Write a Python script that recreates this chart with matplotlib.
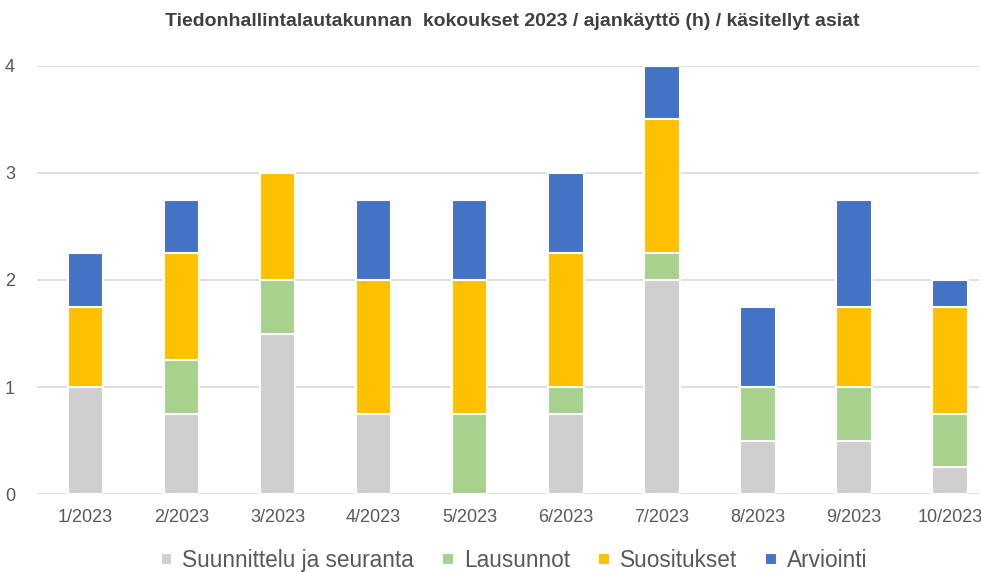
import numpy as np
import matplotlib.pyplot as plt

# data
months = ['1/2023', '2/2023', '3/2023', '4/2023', '5/2023',
          '6/2023', '7/2023', '8/2023', '9/2023', '10/2023']
suunnittelu = [1.0, 0.75, 1.5, 0.75, 0.0, 0.75, 2.0, 0.5, 0.5, 0.25]
lausunnot = [0.0, 0.5, 0.5, 0.0, 0.75, 0.25, 0.25, 0.5, 0.5, 0.5]
suositukset = [0.75, 1.0, 1.0, 1.25, 1.25, 1.25, 1.25, 0.0, 0.75, 1.0]
arviointi = [0.5, 0.5, 0.0, 0.75, 0.75, 0.75, 0.5, 0.75, 1.0, 0.25]

series = [('Suunnittelu ja seuranta', suunnittelu, '#D0CECE'),
          ('Lausunnot', lausunnot, '#A9D18E'),
          ('Suositukset', suositukset, '#FFC000'),
          ('Arviointi', arviointi, '#4472C4')]

plt.rcParams['font.family'] = ['Liberation Sans', 'DejaVu Sans']

fig = plt.figure(figsize=(9.81, 5.72), dpi=100)
ax = fig.add_axes([0.038, 0.136, 0.96, 0.749])

x = np.arange(len(months))
bottom = np.zeros(len(months))
for name, vals, col in series:
    vals = np.array(vals)
    ax.bar(x, vals, 0.37, bottom=bottom, color=col, edgecolor='white',
           linewidth=1.5, label=name, zorder=3)
    bottom += vals

ax.set_xlim(-0.5, 9.3)
ax.set_ylim(0, 4)
ax.set_yticks([0, 1, 2, 3, 4])
ax.set_xticks(x)
ax.set_xticklabels(months)
ax.grid(axis='y', color='#D9D9D9', linewidth=1.2, zorder=0)
for s in ['top', 'right', 'left', 'bottom']:
    ax.spines[s].set_visible(False)
ax.tick_params(axis='both', length=0, labelsize=13, colors='#595959')
ax.tick_params(axis='x', pad=11)
ax.tick_params(axis='y', pad=16)

fig.text(0.522, 0.962, 'Tiedonhallintalautakunnan  kokoukset 2023 / ajankäyttö (h) / käsitellyt asiat',
         ha='center', va='center', fontsize=14, fontweight='bold', color='#404040')

leg = fig.legend(loc='center', bbox_to_anchor=(0.524, 0.02), ncol=4, frameon=False,
                 fontsize=16.3, labelcolor='#595959', handlelength=0.5, handleheight=0.5,
                 handletextpad=0.45, columnspacing=1.25)

fig.savefig('out.png', dpi=100)
